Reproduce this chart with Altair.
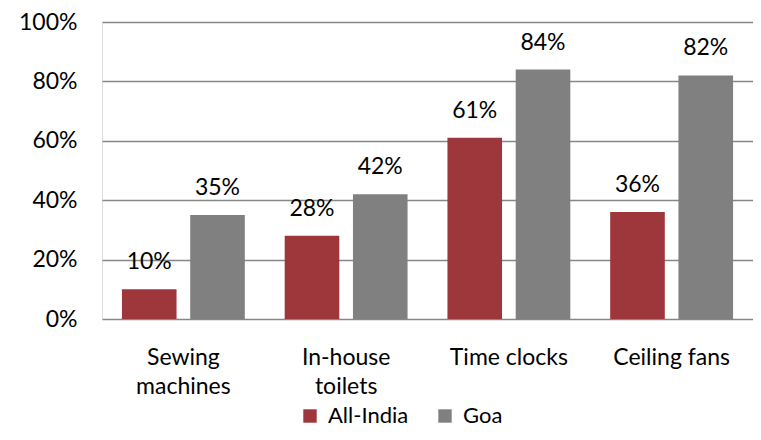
import altair as alt
import pandas as pd

categories = ["Sewing|machines", "In-house|toilets", "Time clocks", "Ceiling fans"]
series = ["All-India", "Goa"]
all_india = [0.10, 0.28, 0.61, 0.36]
goa = [0.35, 0.42, 0.84, 0.82]
colors = ["#9E373B", "#808080"]

rows = []
for c, a, g in zip(categories, all_india, goa):
    rows.append({"cat": c, "series": series[0], "value": a})
    rows.append({"cat": c, "series": series[1], "value": g})
df = pd.DataFrame(rows)

FONT = "Lato"

x = alt.X("cat:N", sort=categories, title=None,
          scale=alt.Scale(paddingInner=0.245, paddingOuter=0.1225),
          axis=alt.Axis(labelExpr="split(datum.label, '|')", labelAngle=0,
                        domain=False, ticks=False, labelPadding=27,
                        labelLineHeight=29, labelFontSize=23, labelFont=FONT,
                        labelColor="#000000"))
xo = alt.XOffset("series:N", sort=series, scale=alt.Scale(paddingInner=0.2, paddingOuter=0))
y = alt.Y("value:Q", title=None,
          scale=alt.Scale(domain=[0, 1]),
          axis=alt.Axis(values=[0, 0.2, 0.4, 0.6, 0.8, 1.0], format=".0%",
                        domain=False, ticks=False, tickSize=0, labelPadding=25,
                        labelFontSize=23, labelFont=FONT, labelColor="#000000",
                        grid=True, gridColor="#878787", gridWidth=1.5))

bars = alt.Chart(df).mark_bar().encode(
    x=x, xOffset=xo, y=y,
    color=alt.Color("series:N", sort=series,
                    scale=alt.Scale(domain=series, range=colors),
                    legend=alt.Legend(title=None, orient="none", direction="horizontal",
                                      legendX=197, legendY=383,
                                      symbolType="square", symbolSize=180,
                                      symbolStrokeWidth=0,
                                      labelFontSize=22, labelFont=FONT,
                                      labelColor="#000000", labelOffset=7,
                                      columnPadding=25)),
)

labels = alt.Chart(df).mark_text(baseline="alphabetic", dy=-20, fontSize=23,
                                 font=FONT, color="#000000").encode(
    x=x, xOffset=xo, y=y,
    text=alt.Text("value:Q", format=".0%"),
)

chart = alt.layer(bars, labels).properties(
    width=651, height=297,
    autosize=alt.AutoSizeParams(type="none"),
    padding={"left": 94, "top": 14, "right": 0, "bottom": 113},
).configure_view(stroke=None).configure(background="white")

chart.save("out.html", embed_options={"renderer": "svg", "actions": False})
